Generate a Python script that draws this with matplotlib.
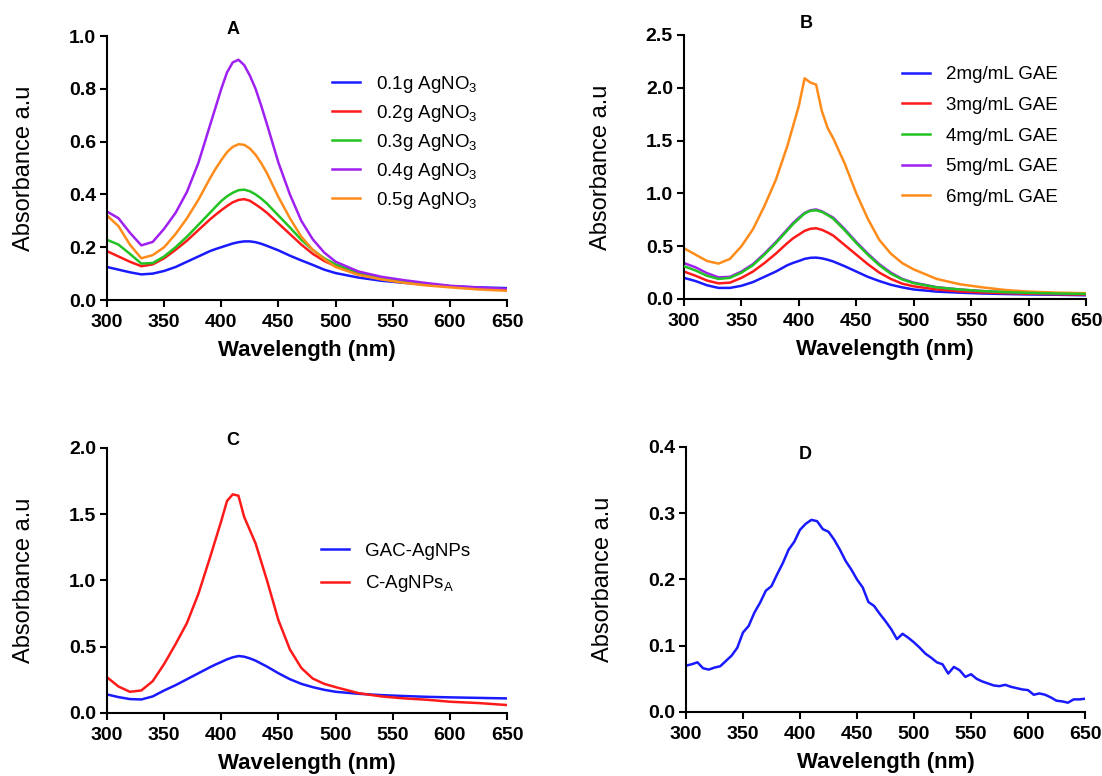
import matplotlib.pyplot as plt
from matplotlib.ticker import MultipleLocator, FormatStrFormatter

plt.rcParams['font.family'] = ['Liberation Sans', 'DejaVu Sans']
plt.rcParams['mathtext.fontset'] = 'custom'
plt.rcParams['mathtext.rm'] = 'Liberation Sans'
plt.rcParams['mathtext.default'] = 'regular'

BLUE = '#1a1aff'
RED = '#ff1a1a'
GREEN = '#22c322'
PURPLE = '#a020f0'
ORANGE = '#ff8c1a'

# --- A: AgNO3 loading ---
wl_a = [300, 310, 320, 330, 340, 350, 360, 370, 380, 390, 395, 400, 405, 410, 415, 420, 425, 430, 435, 440,
        450, 460, 470, 480, 490, 500, 520, 540, 560, 580, 600, 625, 650]
agno3_01 = [0.125, 0.115, 0.105, 0.097, 0.100, 0.110, 0.125, 0.145, 0.165, 0.185, 0.193, 0.200, 0.207, 0.214,
            0.219, 0.222, 0.222, 0.219, 0.213, 0.205, 0.188, 0.168, 0.150, 0.133, 0.115, 0.102, 0.085, 0.073,
            0.065, 0.058, 0.052, 0.048, 0.045]
agno3_02 = [0.185, 0.165, 0.145, 0.128, 0.135, 0.158, 0.190, 0.225, 0.265, 0.305, 0.323, 0.340, 0.356, 0.370,
            0.379, 0.382, 0.376, 0.362, 0.347, 0.330, 0.290, 0.250, 0.210, 0.175, 0.148, 0.128, 0.100, 0.080,
            0.068, 0.060, 0.052, 0.045, 0.040]
agno3_03 = [0.228, 0.210, 0.175, 0.138, 0.140, 0.165, 0.200, 0.240, 0.285, 0.330, 0.353, 0.375, 0.393, 0.406,
            0.416, 0.418, 0.412, 0.400, 0.384, 0.365, 0.320, 0.275, 0.228, 0.190, 0.158, 0.135, 0.105, 0.083,
            0.070, 0.060, 0.052, 0.045, 0.040]
agno3_04 = [0.335, 0.310, 0.255, 0.207, 0.220, 0.270, 0.330, 0.410, 0.520, 0.660, 0.730, 0.800, 0.862, 0.900,
            0.910, 0.890, 0.850, 0.800, 0.735, 0.665, 0.520, 0.400, 0.300, 0.230, 0.180, 0.145, 0.108, 0.088,
            0.075, 0.064, 0.054, 0.047, 0.042]
agno3_05 = [0.320, 0.280, 0.210, 0.158, 0.170, 0.200, 0.250, 0.310, 0.380, 0.460, 0.497, 0.530, 0.560, 0.580,
            0.590, 0.588, 0.574, 0.550, 0.518, 0.480, 0.390, 0.310, 0.240, 0.190, 0.155, 0.125, 0.095, 0.078,
            0.065, 0.055, 0.048, 0.040, 0.035]
labels_a = [r'0.1g AgNO$_3$', r'0.2g AgNO$_3$', r'0.3g AgNO$_3$', r'0.4g AgNO$_3$', r'0.5g AgNO$_3$']

# --- B: extract concentration ---
wl_b = [300, 310, 320, 330, 340, 350, 360, 370, 380, 390, 395, 400, 405, 410, 415, 420, 425, 430, 440,
        450, 460, 470, 480, 490, 500, 520, 540, 560, 580, 600, 625, 650]
gae_2 = [0.200, 0.170, 0.130, 0.105, 0.105, 0.125, 0.160, 0.210, 0.260, 0.320, 0.342, 0.360, 0.380, 0.390, 0.392,
         0.385, 0.372, 0.355, 0.310, 0.260, 0.210, 0.170, 0.135, 0.110, 0.090, 0.070, 0.060, 0.052, 0.047, 0.043,
         0.040, 0.035]
gae_3 = [0.260, 0.220, 0.175, 0.148, 0.155, 0.200, 0.260, 0.340, 0.430, 0.530, 0.575, 0.610, 0.645, 0.665, 0.670,
         0.655, 0.630, 0.600, 0.510, 0.420, 0.330, 0.250, 0.190, 0.145, 0.120, 0.090, 0.072, 0.062, 0.055, 0.050,
         0.045, 0.042]
gae_4 = [0.310, 0.270, 0.220, 0.190, 0.200, 0.250, 0.320, 0.420, 0.530, 0.650, 0.710, 0.760, 0.810, 0.835, 0.840,
         0.825, 0.795, 0.760, 0.650, 0.530, 0.420, 0.320, 0.240, 0.185, 0.150, 0.110, 0.090, 0.075, 0.065, 0.058,
         0.052, 0.048]
gae_5 = [0.340, 0.300, 0.245, 0.205, 0.210, 0.260, 0.330, 0.430, 0.540, 0.660, 0.720, 0.770, 0.815, 0.840, 0.848,
         0.830, 0.800, 0.770, 0.660, 0.540, 0.430, 0.330, 0.250, 0.190, 0.155, 0.112, 0.090, 0.075, 0.065, 0.058,
         0.052, 0.048]
gae_6 = [0.480, 0.420, 0.360, 0.335, 0.380, 0.500, 0.660, 0.880, 1.130, 1.450, 1.640, 1.830, 2.090, 2.050, 2.030,
         1.780, 1.620, 1.520, 1.280, 1.000, 0.760, 0.560, 0.430, 0.340, 0.280, 0.190, 0.140, 0.110, 0.085, 0.070,
         0.060, 0.055]
labels_b = ['2mg/mL GAE', '3mg/mL GAE', '4mg/mL GAE', '5mg/mL GAE', '6mg/mL GAE']

# --- C: GAC-AgNPs vs C-AgNPs ---
wl_c = wl_b
gac_agnps = [0.140, 0.120, 0.105, 0.102, 0.125, 0.170, 0.210, 0.255, 0.300, 0.345, 0.366, 0.385, 0.405, 0.420,
             0.430, 0.425, 0.412, 0.395, 0.350, 0.300, 0.255, 0.220, 0.195, 0.175, 0.160, 0.145, 0.135, 0.128,
             0.122, 0.118, 0.114, 0.110]
c_agnps = [0.270, 0.200, 0.160, 0.170, 0.240, 0.370, 0.520, 0.680, 0.900, 1.170, 1.310, 1.450, 1.600, 1.650,
           1.640, 1.480, 1.380, 1.280, 1.000, 0.700, 0.480, 0.340, 0.260, 0.220, 0.195, 0.150, 0.125, 0.110,
           0.100, 0.085, 0.075, 0.060]
labels_c = ['GAC-AgNPs', r'C-AgNPs$_A$']

# --- D: single spectrum ---
wl_d = [300, 305, 310, 315, 320, 325, 330, 335, 340, 345, 350, 355, 360, 365, 370, 375, 380, 385, 390, 395,
        400, 405, 410, 415, 420, 425, 430, 435, 440, 445, 450, 455, 460, 465, 470, 475, 480, 485, 490, 495,
        500, 505, 510, 515, 520, 525, 530, 535, 540, 545, 550, 555, 560, 565, 570, 575, 580, 585, 590, 595,
        600, 605, 610, 615, 620, 625, 630, 635, 640, 645, 650]
abs_d = [0.070, 0.072, 0.075, 0.066, 0.064, 0.067, 0.069, 0.077, 0.085, 0.097, 0.120, 0.130, 0.150, 0.165,
         0.183, 0.190, 0.208, 0.225, 0.245, 0.257, 0.275, 0.284, 0.290, 0.288, 0.276, 0.272, 0.260, 0.245,
         0.228, 0.215, 0.200, 0.188, 0.166, 0.160, 0.148, 0.137, 0.125, 0.110, 0.118, 0.112, 0.105, 0.097,
         0.088, 0.082, 0.075, 0.072, 0.058, 0.068, 0.063, 0.053, 0.057, 0.050, 0.046, 0.043, 0.040, 0.039,
         0.041, 0.038, 0.036, 0.034, 0.033, 0.026, 0.028, 0.026, 0.022, 0.017, 0.016, 0.014, 0.019, 0.019, 0.020]


def style_axes(ax, ymax, ystep, letter, lx, ly):
    ax.set_xlim(300, 650)
    ax.set_ylim(0, ymax)
    ax.xaxis.set_major_locator(MultipleLocator(50))
    ax.yaxis.set_major_locator(MultipleLocator(ystep))
    ax.yaxis.set_major_formatter(FormatStrFormatter('%.1f'))
    for side in ('top', 'right'):
        ax.spines[side].set_visible(False)
    for side in ('left', 'bottom'):
        ax.spines[side].set_linewidth(1.5)
    ax.tick_params(width=1.5, length=5, labelsize=14)
    ax.tick_params(axis='x', pad=5)
    ax.tick_params(axis='y', pad=3)
    for lab in ax.get_xticklabels() + ax.get_yticklabels():
        lab.set_fontweight('bold')
    ax.set_xlabel('Wavelength (nm)', fontsize=16, fontweight='bold')
    ax.set_ylabel('Absorbance a.u', fontsize=17)
    ax.xaxis.set_label_coords(0.5, -0.152)
    ax.yaxis.set_label_coords(-0.18, 0.5)
    ax.text(lx, ly, letter, transform=ax.transAxes, ha='center', va='center',
            fontsize=13, fontweight='bold')


def add_legend(ax, x, y, spacing):
    ax.legend(loc='upper left', bbox_to_anchor=(x, y), frameon=False, fontsize=13.5,
              handlelength=1.5, handletextpad=0.85, labelspacing=spacing,
              borderpad=0, borderaxespad=0)


fig = plt.figure(figsize=(11.02, 7.76), dpi=100)
ax_a = fig.add_axes([0.0971, 0.6134, 0.363, 0.3402])
ax_b = fig.add_axes([0.6207, 0.6147, 0.3648, 0.3402])
ax_c = fig.add_axes([0.0971, 0.0812, 0.363, 0.3415])
ax_d = fig.add_axes([0.6225, 0.0825, 0.3621, 0.3415])

lw = 1.8

for ys, col, lab in zip([agno3_01, agno3_02, agno3_03, agno3_04, agno3_05],
                        [BLUE, RED, GREEN, PURPLE, ORANGE], labels_a):
    ax_a.plot(wl_a, ys, color=col, lw=lw, label=lab)
style_axes(ax_a, 1.0, 0.2, 'A', 0.315, 1.023)
add_legend(ax_a, 0.5625, 0.856, 0.42)

for ys, col, lab, z in zip([gae_2, gae_3, gae_4, gae_5, gae_6],
                           [BLUE, RED, GREEN, PURPLE, ORANGE], labels_b, [2, 2, 3, 2, 2]):
    ax_b.plot(wl_b, ys, color=col, lw=lw, label=lab, zorder=z)
style_axes(ax_b, 2.5, 0.5, 'B', 0.303, 1.042)
add_legend(ax_b, 0.542, 0.882, 0.72)

ax_c.plot(wl_c, gac_agnps, color=BLUE, lw=lw, label=labels_c[0])
ax_c.plot(wl_c, c_agnps, color=RED, lw=lw, label=labels_c[1])
style_axes(ax_c, 2.0, 0.5, 'C', 0.315, 1.030)
add_legend(ax_c, 0.535, 0.642, 0.7)

ax_d.plot(wl_d, abs_d, color=BLUE, lw=lw)
style_axes(ax_d, 0.4, 0.1, 'D', 0.298, 0.971)

fig.savefig('out.png', dpi=100)
